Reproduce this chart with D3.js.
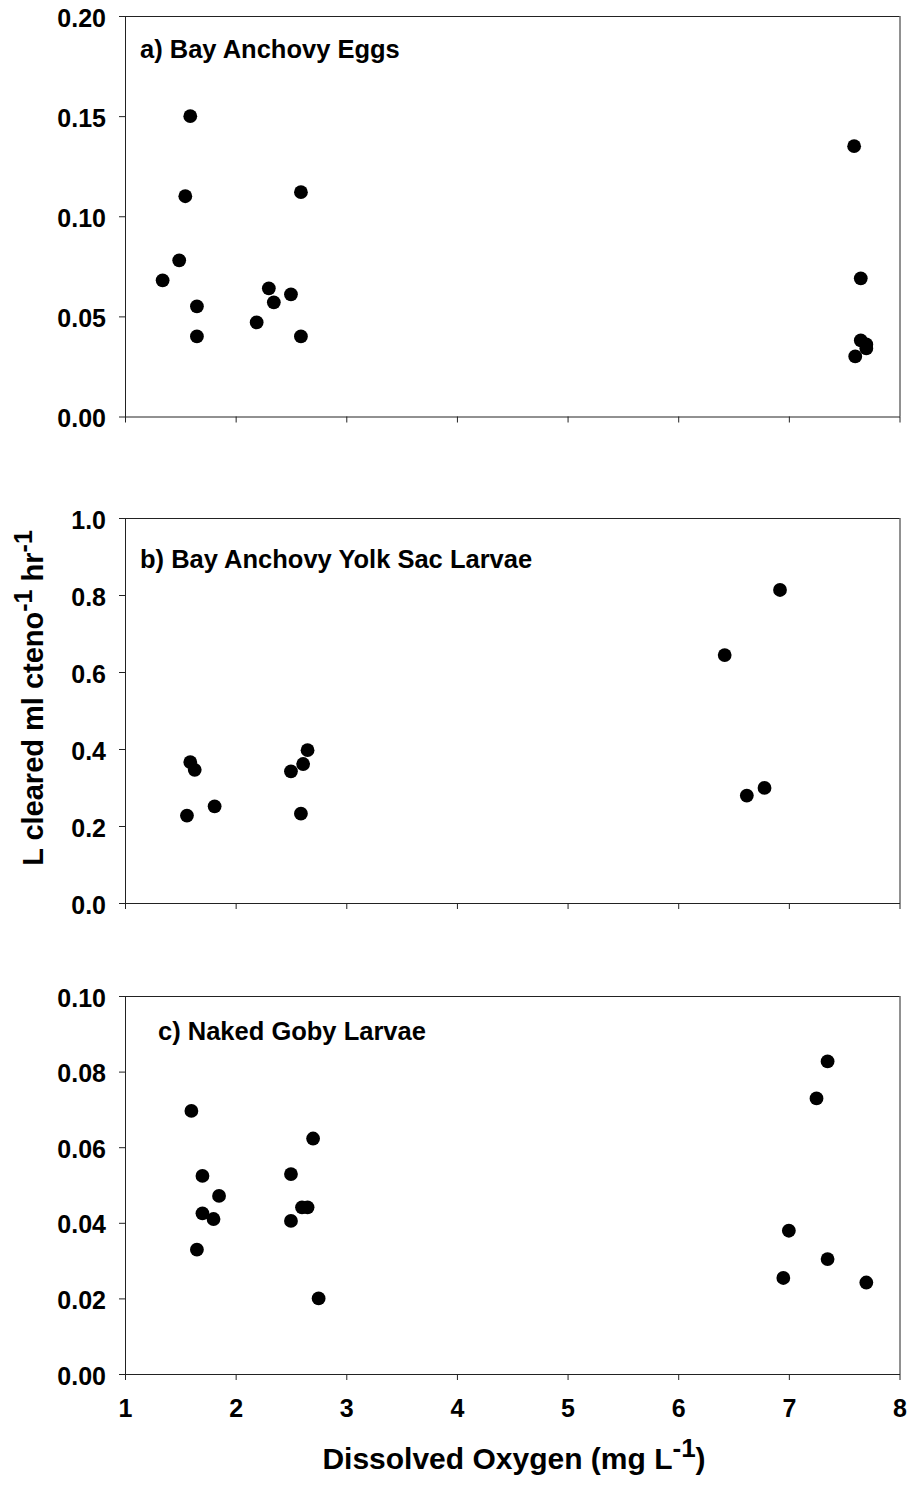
<!DOCTYPE html>
<html>
<head>
<meta charset="utf-8">
<script src="https://cdn.jsdelivr.net/npm/d3@7"></script>
<style>
  body { margin: 0; background: #fff; }
  svg { display: block; }
  text { font-family: "Liberation Sans", Arial, Helvetica, sans-serif; font-weight: bold; fill: #000; }
</style>
</head>
<body>
<svg id="chart" width="908" height="1487"></svg>
<script>
// Clearance rates (L cleared ml cteno^-1 hr^-1) against dissolved oxygen (mg L^-1)

// a) Bay anchovy eggs
const eggsDO   = [1.34, 1.49, 1.545, 1.59, 1.65, 1.65, 2.19, 2.30, 2.345, 2.50, 2.59, 2.59, 7.59, 7.65, 7.65, 7.70, 7.70, 7.60];
const eggsRate = [0.068, 0.078, 0.110, 0.150, 0.055, 0.040, 0.047, 0.064, 0.057, 0.061, 0.112, 0.040, 0.135, 0.069, 0.038, 0.036, 0.034, 0.030];

// b) Bay anchovy yolk sac larvae
const yolkDO   = [1.59, 1.63, 1.56, 1.81, 2.50, 2.61, 2.65, 2.59, 6.92, 6.42, 6.62, 6.78];
const yolkRate = [0.366, 0.346, 0.227, 0.251, 0.342, 0.361, 0.397, 0.232, 0.813, 0.644, 0.279, 0.299];

// c) Naked goby larvae
const gobyDO   = [1.60, 1.70, 1.85, 1.70, 1.80, 1.65, 2.50, 2.70, 2.60, 2.65, 2.50, 2.75, 7.35, 7.25, 7.00, 7.35, 6.95, 7.70];
const gobyRate = [0.0696, 0.0524, 0.0471, 0.0425, 0.0410, 0.0329, 0.0529, 0.0623, 0.0441, 0.0441, 0.0405, 0.0200, 0.0827, 0.0729, 0.0379, 0.0304, 0.0254, 0.0242];

// Axis ticks and labels
const xTicks    = [1, 2, 3, 4, 5, 6, 7, 8];
const eggsTicks = [0, 0.05, 0.10, 0.15, 0.20];
const yolkTicks = [0, 0.2, 0.4, 0.6, 0.8, 1.0];
const gobyTicks = [0, 0.02, 0.04, 0.06, 0.08, 0.10];
const panelTitles = ["a) Bay Anchovy Eggs", "b) Bay Anchovy Yolk Sac Larvae", "c) Naked Goby Larvae"];

const svg = d3.select("#chart");
const plotLeft = 125, plotRight = 899.5;
const lineColor = "#222";

const x = d3.scaleLinear().domain([1, 8]).range([plotLeft, plotRight]);

const panels = [
  { title: panelTitles[0], xs: eggsDO, ys: eggsRate, ticks: eggsTicks, fmt: ".2f", top: 16,  bottom: 416.5, tx: 140, ty: 58 },
  { title: panelTitles[1], xs: yolkDO, ys: yolkRate, ticks: yolkTicks, fmt: ".1f", top: 518, bottom: 903,   tx: 140, ty: 568 },
  { title: panelTitles[2], xs: gobyDO, ys: gobyRate, ticks: gobyTicks, fmt: ".2f", top: 996, bottom: 1374,  tx: 158, ty: 1040 }
];

panels.forEach((p, i) => {
  const y = d3.scaleLinear().domain([0, d3.max(p.ticks)]).range([p.bottom, p.top]);
  const g = svg.append("g");

  // frame: top and right edges
  g.append("line")
    .attr("x1", plotLeft).attr("x2", plotRight)
    .attr("y1", y(d3.max(p.ticks)) + 0.5).attr("y2", y(d3.max(p.ticks)) + 0.5)
    .attr("stroke", lineColor).attr("stroke-width", 1);
  g.append("line")
    .attr("x1", plotRight + 0.5).attr("x2", plotRight + 0.5)
    .attr("y1", y(d3.max(p.ticks))).attr("y2", y(0))
    .attr("stroke", lineColor).attr("stroke-width", 1);

  // y axis
  const ya = g.append("g")
    .attr("transform", `translate(${plotLeft},0)`)
    .call(d3.axisLeft(y).tickValues(p.ticks).tickFormat(d3.format(p.fmt))
      .tickSize(6).tickSizeOuter(0).tickPadding(13));
  ya.select(".domain").attr("stroke", lineColor);
  ya.selectAll(".tick line").attr("stroke", lineColor);
  ya.selectAll(".tick text").attr("font-size", 25).attr("dy", "0.4em")
    .attr("font-family", null).attr("fill", "#000");

  // x axis
  const xa = g.append("g")
    .attr("transform", `translate(0,${p.bottom})`)
    .call(d3.axisBottom(x).tickValues(xTicks)
      .tickFormat(i === 2 ? d3.format("d") : () => "")
      .tickSize(6).tickSizeOuter(0).tickPadding(19));
  xa.select(".domain").attr("stroke", lineColor);
  xa.selectAll(".tick line").attr("stroke", lineColor);
  xa.selectAll(".tick text").attr("font-size", 25).attr("font-family", null).attr("fill", "#000");

  // points
  g.append("g").selectAll("circle")
    .data(p.xs.map((d, k) => [d, p.ys[k]]))
    .join("circle")
    .attr("cx", d => x(d[0]))
    .attr("cy", d => y(d[1]))
    .attr("r", 6.9)
    .attr("fill", "#000");

  // panel title
  g.append("text")
    .attr("x", p.tx).attr("y", p.ty)
    .attr("font-size", 25.5)
    .text(p.title);
});

// x axis title
const xt = svg.append("text")
  .attr("x", 514).attr("y", 1469)
  .attr("text-anchor", "middle")
  .attr("font-size", 30);
xt.append("tspan").text("Dissolved Oxygen (mg L");
xt.append("tspan").attr("dy", -12).attr("font-size", 26).text("-1");
xt.append("tspan").attr("dy", 12).text(")");

// y axis title
const yt = svg.append("text")
  .attr("transform", "translate(43,698) rotate(-90)")
  .attr("text-anchor", "middle")
  .attr("font-size", 29);
yt.append("tspan").text("L cleared ml cteno");
yt.append("tspan").attr("dy", -11).attr("font-size", 25).text("-1");
yt.append("tspan").attr("dy", 11).text(" hr");
yt.append("tspan").attr("dy", -11).attr("font-size", 25).text("-1");
</script>
</body>
</html>
